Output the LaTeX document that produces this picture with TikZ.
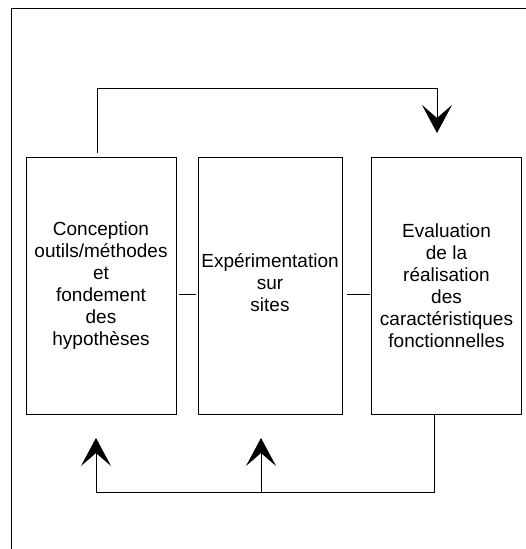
\documentclass[tikz,border=0pt]{standalone}
\usepackage{fontspec}
\setmainfont{Liberation Sans}
\usetikzlibrary{arrows.meta,positioning}
\tikzset{stage/.style={draw, line width=0.8pt, minimum height=257pt, inner sep=0pt},
stagetext/.style={align=center, font=\fontsize{19}{22}\selectfont},
flow/.style={line width=0.8pt},
bigtip/.style={-{Stealth[length=28pt, width=30pt, inset=13pt]}}}

\begin{document}
\begin{tikzpicture}[x=1pt, y=-1pt]
        \useasboundingbox (0,0) rectangle (526,549);
        \draw[flow] (11,549) -- (11,8) -- (526,8);

        \node[stage, minimum width=150pt] (b1) at (101, 285.5) {};
        \node[stage, minimum width=144pt] (b2) at (270, 285.5) {};
        \node[stage, minimum width=150pt] (b3) at (446.5, 285.5) {};

        \node[stagetext] (t1) at (b1) {Conception\\outils/méthodes\\et\\fondement\\des\\hypothèses};
        \node[stagetext, yshift=3pt] (t2) at (b2) {Expérimentation\\sur\\sites};
        \node[stagetext] (t3) at (b3) {Evaluation\\de la\\réalisation\\des\\caractéristiques\\fonctionnelles};

        \coordinate (top) at (0, 88);
        \coordinate (low) at (0, 492);
        \coordinate (in3) at (437, 133);
        \coordinate (in1) at (96, 438);
        \coordinate (in2) at (261, 438);

        \draw[flow, shorten <=3pt, shorten >=2pt] ([yshift=-8.5pt]b1.east) -- ([yshift=-8.5pt]b2.west);
        \draw[flow, shorten <=5pt, shorten >=1pt] ([yshift=-8.5pt]b2.east) -- ([yshift=-8.5pt]b3.west);

        \draw[flow, bigtip] ([xshift=-4pt, yshift=4pt]b1.north) |- (top -| in3) -- (in3);
        \draw[flow, bigtip] ([xshift=-12.5pt]b3.south) |- (low -| in1) -- (in1);
        \draw[flow, bigtip] (low -| in2) -- (in2);
    \end{tikzpicture}
\end{document}
